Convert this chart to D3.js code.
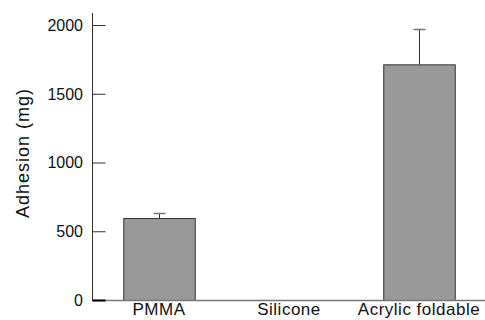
<!DOCTYPE html>
<html>
<head>
<meta charset="utf-8">
<script src="https://cdn.jsdelivr.net/npm/d3@7"></script>
<style>
	body { margin: 0; background: #fff; }
	text { font-family: "Liberation Sans", Arial, sans-serif; fill: #111; }
</style>
</head>
<body>
<div id="chart"></div>
<script>
var categories = ["PMMA", "Silicone", "Acrylic foldable"];
var adhesion = [596, 0, 1714];
var errorUp = [36, 0, 258];
var yTicks = [0, 500, 1000, 1500, 2000];

var width = 485,
	height = 320;

var svg = d3.select("#chart").append("svg")
	.attr("width", width)
	.attr("height", height);

var x = d3.scaleBand().domain(categories)
	.range([94, 484])
	.paddingInner(0.45)
	.paddingOuter(0.225);

var y = d3.scaleLinear().domain([0, 2000]).range([300, 25]);

// bars
svg.selectAll("rect.bar")
	.data(categories)
	.enter()
	.filter(function(d, i) { return adhesion[i] > 0; })
	.append("rect")
	.attr("class", "bar")
	.attr("x", function(d) { return x(d) + 0.5; })
	.attr("width", x.bandwidth())
	.attr("y", function(d) { return y(adhesion[categories.indexOf(d)]) + 0.5; })
	.attr("height", function(d) { return y(0) - y(adhesion[categories.indexOf(d)]); })
	.style("fill", "#999")
	.style("stroke", "#333")
	.style("stroke-width", 1);

/* error bars (upper only) */
var err = svg.append("g").attr("class", "errors");
categories.forEach(function(c, i) {
	if (errorUp[i] <= 0) return;
	var cx = Math.round(x(c) + x.bandwidth() / 2) + 0.5;
	err.append("line")
		.attr("x1", cx).attr("x2", cx)
		.attr("y1", y(adhesion[i])).attr("y2", y(adhesion[i] + errorUp[i]))
		.style("stroke", "#333");
	err.append("line")
		.attr("x1", cx - 6).attr("x2", cx + 6)
		.attr("y1", Math.round(y(adhesion[i] + errorUp[i])) + 0.5)
		.attr("y2", Math.round(y(adhesion[i] + errorUp[i])) + 0.5)
		.style("stroke", "#777")
		.style("stroke-width", 1.5);
});

// x baseline
svg.append("line")
	.attr("x1", 92).attr("x2", 485)
	.attr("y1", y(0) + 0.5).attr("y2", y(0) + 0.5)
	.style("stroke", "#777")
	.style("stroke-width", 1.5);

// y axis
var yAxis = d3.axisRight(y).tickValues(yTicks).tickSize(13).tickFormat("");
var gy = svg.append("g")
	.attr("transform", "translate(92.5,0)")
	.call(yAxis);
gy.select(".domain").remove();
gy.selectAll(".tick line").style("stroke", "#333");
gy.append("line")
	.attr("y1", 13).attr("y2", y(0))
	.style("stroke", "#333");
gy.select(".tick line").style("stroke", "#000").style("stroke-width", 2);

svg.append("g").selectAll("text")
	.data(yTicks)
	.enter()
	.append("text")
	.attr("x", 83)
	.attr("y", function(d) { return y(d); })
	.attr("dy", "0.36em")
	.attr("text-anchor", "end")
	.style("font-size", "16px")
	.text(function(d) { return d; });

// category labels
svg.append("g").selectAll("text")
	.data(categories)
	.enter()
	.append("text")
	.attr("x", function(d) { return x(d) + x.bandwidth() / 2; })
	.attr("y", 315)
	.attr("text-anchor", "middle")
	.style("font-size", "17px")
	.style("letter-spacing", "0.5px")
	.text(function(d) { return d; });

svg.append("text")
	.attr("transform", "translate(29,153) rotate(-90)")
	.attr("text-anchor", "middle")
	.style("font-size", "18px")
	.style("letter-spacing", "1px")
	.text("Adhesion (mg)");
</script>
</body>
</html>
